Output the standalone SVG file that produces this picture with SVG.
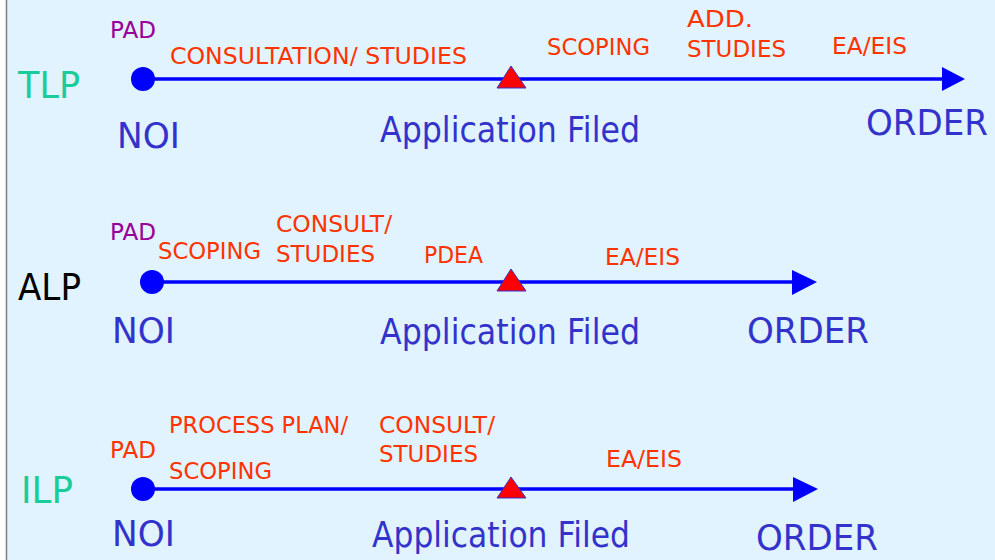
<svg xmlns="http://www.w3.org/2000/svg" width="995" height="560" viewBox="0 0 995 560">
<defs>
<style>
text{font-family:"DejaVu Sans","Liberation Sans",sans-serif;}
.s{font-size:23px;fill:#FF3300;}
.p{font-size:23px;fill:#990099;}
.b{font-size:36px;fill:#3333CC;}
.lbl{font-size:38px;}
.ln{stroke:#0000FF;stroke-width:3.5;fill:none;}
.dot{fill:#0000FF;}
.tri{fill:#FF0000;stroke:#3333CC;stroke-width:1;}
.head{fill:#0000FF;}
</style>
</defs>
<rect x="0" y="0" width="995" height="560" fill="#FFFFFF"/>
<rect x="6" y="0" width="989" height="560" fill="#E0F3FE"/>
<line x1="6.5" y1="0" x2="6.5" y2="560" stroke="#808080" stroke-width="1.5"/>

<g id="connectors">
<line class="ln" x1="143" y1="79" x2="944" y2="79"/>
<polygon class="head" points="942,67 965,79 942,91"/>
<line class="ln" x1="152" y1="282" x2="794" y2="282"/>
<polygon class="head" points="792,270 817,282 792,295"/>
<line class="ln" x1="143" y1="489" x2="795" y2="489"/>
<polygon class="head" points="793,477 818,489 793,502"/>
</g>

<g id="tlp">
<text class="lbl" x="18" y="98" fill="#1ACC99" textLength="62" lengthAdjust="spacingAndGlyphs">TLP</text>
<circle class="dot" cx="143" cy="79" r="12"/>
<polygon class="tri" points="511,66 497,88 526,88"/>
<text class="p" x="110" y="38" textLength="46" lengthAdjust="spacingAndGlyphs">PAD</text>
<text class="s" x="170" y="64" textLength="297" lengthAdjust="spacingAndGlyphs">CONSULTATION/ STUDIES</text>
<text class="s" x="547" y="55" textLength="103" lengthAdjust="spacingAndGlyphs">SCOPING</text>
<text class="s" x="687" y="27" textLength="66" lengthAdjust="spacingAndGlyphs">ADD.</text>
<text class="s" x="687" y="57" textLength="99" lengthAdjust="spacingAndGlyphs">STUDIES</text>
<text class="s" x="832" y="54" textLength="75" lengthAdjust="spacingAndGlyphs">EA/EIS</text>
<text class="b" x="117" y="148" textLength="63" lengthAdjust="spacingAndGlyphs">NOI</text>
<text class="b" x="380" y="142" textLength="260" lengthAdjust="spacingAndGlyphs">Application Filed</text>
<text class="b" x="866" y="135" textLength="122" lengthAdjust="spacingAndGlyphs">ORDER</text>
</g>

<g id="alp">
<text class="lbl" x="18" y="300" fill="#000000" textLength="63" lengthAdjust="spacingAndGlyphs">ALP</text>
<circle class="dot" cx="152" cy="282" r="12"/>
<polygon class="tri" points="511,269 497,291 526,291"/>
<text class="p" x="110" y="240" textLength="46" lengthAdjust="spacingAndGlyphs">PAD</text>
<text class="s" x="158" y="259" textLength="103" lengthAdjust="spacingAndGlyphs">SCOPING</text>
<text class="s" x="276" y="232" textLength="116" lengthAdjust="spacingAndGlyphs">CONSULT/</text>
<text class="s" x="276" y="262" textLength="99" lengthAdjust="spacingAndGlyphs">STUDIES</text>
<text class="s" x="424" y="263" textLength="59" lengthAdjust="spacingAndGlyphs">PDEA</text>
<text class="s" x="605" y="265" textLength="75" lengthAdjust="spacingAndGlyphs">EA/EIS</text>
<text class="b" x="112" y="343" textLength="63" lengthAdjust="spacingAndGlyphs">NOI</text>
<text class="b" x="380" y="344" textLength="260" lengthAdjust="spacingAndGlyphs">Application Filed</text>
<text class="b" x="747" y="343" textLength="122" lengthAdjust="spacingAndGlyphs">ORDER</text>
</g>

<g id="ilp">
<text class="lbl" x="21" y="503" fill="#1ACC99" textLength="52" lengthAdjust="spacingAndGlyphs">ILP</text>
<circle class="dot" cx="143" cy="489" r="12"/>
<polygon class="tri" points="511,477 497,498 526,498"/>
<text class="s" x="110" y="458" textLength="46" lengthAdjust="spacingAndGlyphs">PAD</text>
<text class="s" x="169" y="433" textLength="179" lengthAdjust="spacingAndGlyphs">PROCESS PLAN/</text>
<text class="s" x="169" y="479" textLength="103" lengthAdjust="spacingAndGlyphs">SCOPING</text>
<text class="s" x="379" y="433" textLength="116" lengthAdjust="spacingAndGlyphs">CONSULT/</text>
<text class="s" x="379" y="462" textLength="99" lengthAdjust="spacingAndGlyphs">STUDIES</text>
<text class="s" x="606" y="467" textLength="76" lengthAdjust="spacingAndGlyphs">EA/EIS</text>
<text class="b" x="112" y="546" textLength="63" lengthAdjust="spacingAndGlyphs">NOI</text>
<text class="b" x="372" y="547" textLength="258" lengthAdjust="spacingAndGlyphs">Application Filed</text>
<text class="b" x="756" y="550" textLength="122" lengthAdjust="spacingAndGlyphs">ORDER</text>
</g>
</svg>
